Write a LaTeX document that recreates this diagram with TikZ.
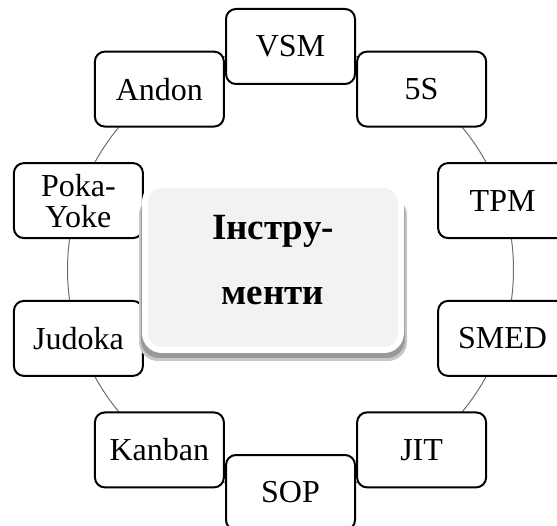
\documentclass[tikz,border=0pt]{standalone}
\usepackage{fontspec}
\setmainfont{Liberation Serif}
\definecolor{corefill}{HTML}{F2F2F2}
\definecolor{ringgray}{HTML}{6E6E6E}
\begin{document}
\begin{tikzpicture}[x=1pt,y=-1pt,
  tool/.style={draw=black, line width=2pt, fill=white, rounded corners=10pt,
    minimum width=129pt, minimum height=75pt, inner sep=0pt, align=center,
    font=\fontsize{32}{31}\selectfont},
  ring/.style={draw=ringgray, line width=1pt},
  corebox/.style={draw=white, line width=6pt, fill=corefill, rounded corners=17pt,
    minimum width=256pt, minimum height=165pt, inner sep=0pt},
  coretext/.style={align=center, inner sep=0pt,
    font=\fontsize{37}{65}\selectfont\bfseries}]
\clip (0,0) rectangle (557,526);

% ring joining the tools
\coordinate (hub) at (290.5,269.5);
\draw[ring] (hub) circle[radius=223];

% tools placed every 36 degrees
\node[tool] (vsm)     at (290.5, 46.5) {VSM};
\node[tool] (fives)   at (421.6, 89.1) {5S};
\node[tool] (tpm)     at (502.6,200.6) {TPM};
\node[tool] (smed)    at (502.6,338.4) {SMED};
\node[tool] (jit)     at (421.6,449.9) {JIT};
\node[tool] (sop)     at (290.5,492.5) {SOP};
\node[tool] (kanban)  at (159.4,449.9) {Kanban};
\node[tool] (judoka)  at ( 78.4,338.4) {Judoka};
\node[tool] (pokayoke)at ( 78.4,200.6) {Poka-\\Yoke};
\node[tool] (andon)   at (159.4, 89.1) {Andon};

% central box with its soft shadow
\fill[black!22, rounded corners=19pt] (139,196) rectangle (407,361);
\fill[black!40, rounded corners=18pt] (141,194) rectangle (405,358);
\node[corebox] (core) at (273,267.5) {};
\node[coretext] (title) at (273,260) {Інстру-\\менти};
\end{tikzpicture}
\end{document}
